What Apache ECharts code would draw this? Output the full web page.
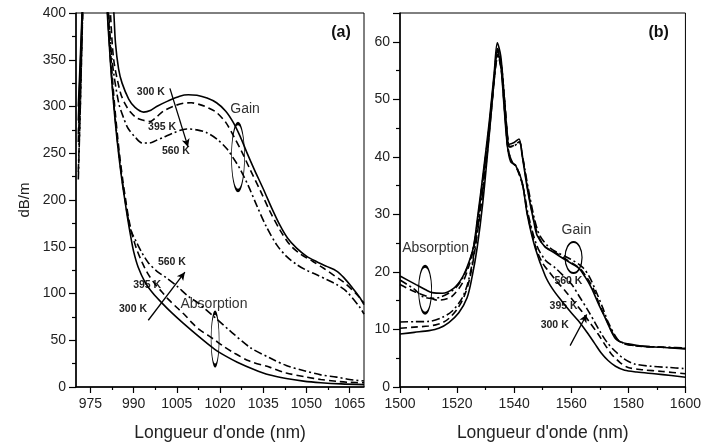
<!DOCTYPE html>
<html><head><meta charset="utf-8">
<script src="https://cdn.jsdelivr.net/npm/echarts@6/dist/echarts.min.js"></script>
<style>html,body{margin:0;padding:0;background:#fff}#c{width:704px;height:447px}</style>
</head><body><div id="c"></div>
<script>
// ---- axis ticks ----
const aXTicks = [975, 990, 1005, 1020, 1035, 1050, 1065];
const aXMinor = [982.5, 997.5, 1012.5, 1027.5, 1042.5, 1057.5];

// ---- panel (a): gain ----
const gainA300 = [[970.8,285],[971.6,350],[972.4,420],[974,650],[976,900],[979,650],[982.3,440],[983.1,403],[983.7,368],[984.8,340],[986,325],[988.3,308],[990.5,299],[993.5,294],[996,296],[998,300],[1002,306],[1006,311],[1009,312.5],[1012,312],[1015.5,309],[1018.8,304],[1022,295],[1024.6,283],[1027,268],[1029.3,251],[1032,232],[1035,212],[1038,191],[1040.8,173],[1043.5,159],[1046.6,148.5],[1050,140],[1053.6,134],[1057,129],[1060.5,124],[1063,117],[1066,106],[1068.6,95.5],[1070,88]];
const gainA395 = [[970.8,262],[971.7,340],[972.5,420],[974,650],[976,900],[979,640],[981.2,445],[981.9,403],[983.1,350],[985.4,315],[987,303],[988.9,294],[991,288],[993,285.5],[995.7,284],[998,289],[1000.3,295],[1004,300.5],[1007.3,303.5],[1010,304],[1013,302],[1016,298.5],[1018.8,293.6],[1022,283],[1024.6,269],[1027.5,252],[1030.4,233],[1034,210],[1037.4,187.5],[1041,167],[1044.3,152],[1048,142],[1052.4,134],[1056,127],[1059.3,120],[1063,112],[1067.5,99],[1070,90]];
const gainA560 = [[970.8,222],[971.5,300],[972.3,400],[973.5,600],[976,900],[978.5,620],[980.6,445],[981.3,403],[982.5,350],[984.8,304],[986.5,288],[988,277],[990.6,267],[993,261],[995.5,261],[998,264],[1000.3,267],[1004,272],[1008.4,276],[1012,275],[1015.4,272],[1019,265],[1022.3,255],[1025,243],[1027,233],[1030,214],[1032.7,194.5],[1036,172],[1039.7,152],[1043,140],[1046.6,131],[1050,125],[1053.6,120],[1057,115],[1060.5,109.6],[1064,102],[1068.6,85],[1070,78]];

// ---- panel (a): absorption ----
const absA300 = [[970.8,300],[971.6,360],[972.3,420],[974,650],[976,900],[978.5,620],[980.2,440],[980.8,403],[982,345],[983,305],[984,272],[985,244],[986,220],[987,199],[988,179],[989,161],[990,145],[991.6,128],[994,112],[996.8,100],[999.8,90],[1003.2,79.5],[1007.3,68],[1013,53],[1018.3,40],[1022,33],[1026,26.5],[1031.6,19],[1037,13],[1043,9],[1049,6.3],[1055,4.6],[1062,3.3],[1070,2.5]];
const absA395 = [[970.8,270],[971.7,345],[972.4,420],[974,650],[976,900],[978.5,630],[980.5,445],[981.2,403],[982.3,345],[983.3,305],[984.3,272],[985.3,244],[986.3,220],[987.3,199],[988.3,180],[989.5,163],[991,148],[993,133],[995,121],[997.5,110],[1000,101],[1002,94],[1005,85],[1007.8,77],[1010.5,68],[1013,61],[1016,55],[1018.3,50],[1021,44],[1024.6,37],[1030,28],[1037.4,21],[1043,15],[1050,10.6],[1055,8],[1060.5,6],[1065,5],[1070,4.5]];
const absA560 = [[970.8,230],[971.5,300],[972.2,400],[973.5,600],[976,900],[978.3,630],[980.2,445],[980.9,403],[982,348],[983,308],[984,275],[985,247],[986,222],[987,201],[988,182],[989,168],[991,155],[993,143],[995.1,133],[998,124],[1001.5,116.5],[1005,108],[1009,97],[1011.9,91],[1015,83],[1018,75],[1023.5,60],[1030.6,42],[1037.4,31],[1043,23],[1048.9,17.7],[1055,13],[1060.5,10.6],[1065,8],[1070,6.4]];

// ---- panel (b): absorption ----
const absB300 = [[1500,19.3],[1505.6,17.8],[1509,16.9],[1511.3,16.4],[1514.8,16.3],[1518.9,17.2],[1521.8,19],[1524,21.5],[1525.8,24.5],[1527.3,30],[1528.9,36.2],[1531.25,46],[1533,54.6],[1534.1,59.8],[1535.3,57.5],[1536.5,50.6],[1537.6,43.7],[1538.2,42.2],[1540,42.5],[1541.7,43.1],[1542.8,40.2],[1544.6,34.5],[1546.9,28.7],[1548,26.4],[1550.9,24.3],[1553.2,23.6],[1557.9,22.1],[1562.5,20.7],[1565,19],[1567.1,17.2],[1569.5,14.5],[1571.8,12.1],[1575.2,8.6],[1577.5,7.8],[1579.9,7.5],[1585,7.1],[1591.4,6.9],[1600,6.6]];
const absB395 = [[1500,17.8],[1505,16.6],[1510.2,15.6],[1513,15.1],[1515.5,15.2],[1518.3,15.8],[1521.8,18],[1524,20.8],[1526,24.5],[1527.5,30],[1529,36],[1531.3,45.5],[1533,54],[1534.2,58.8],[1535.4,56.5],[1536.6,50],[1537.7,43.5],[1538.4,41.8],[1540,42],[1541.8,42.6],[1543,39.8],[1544.8,34.3],[1547,28.7],[1548.5,26.2],[1551,24.3],[1554,23.5],[1558.5,22.1],[1563,20.6],[1565.5,19],[1567.8,17],[1570,14.2],[1572.3,11.7],[1575.5,8.5],[1578,7.6],[1580.5,7.3],[1586,7],[1592,6.9],[1600,6.7]];
const absB560 = [[1500,18.6],[1505,17],[1508,15.7],[1511,15.4],[1514,15.6],[1517,16.3],[1520,17.5],[1522.5,19.5],[1524.5,22],[1526.2,25.5],[1527.6,30.5],[1529,36],[1531.3,45.3],[1533.1,53.8],[1534.2,58.5],[1535.4,56.3],[1536.6,50],[1537.7,43.3],[1538.4,41.7],[1540,41.9],[1541.8,42.5],[1543,39.9],[1544.9,34.6],[1547.2,29],[1549,26.3],[1552,24.4],[1555,23.4],[1559.5,22.3],[1564,20.8],[1566.5,19],[1568.7,16.6],[1571,13.8],[1573,11.2],[1576.2,8.3],[1579,7.5],[1582,7.2],[1588,7],[1594,6.9],[1600,6.8]];

// ---- panel (b): gain ----
const gainB300 = [[1500,9.2],[1505,9.5],[1510.2,9.8],[1513.6,10.2],[1517.1,11.2],[1520.6,12.9],[1523.5,15.5],[1525.2,19],[1527,24.1],[1529,32],[1531.3,44],[1533,53.5],[1534.1,58.5],[1535.3,56],[1536.5,48.5],[1537.6,42],[1538.8,39.1],[1540.5,38.5],[1542.8,35.6],[1544.6,29.9],[1547.4,24.1],[1550.9,19.3],[1553.5,17],[1556.7,14.9],[1559.5,13.2],[1562.5,11.5],[1565.5,9.5],[1568.3,7.5],[1570.5,5.9],[1572.9,4.6],[1575.5,3.6],[1578.7,2.9],[1583,2.6],[1589.1,2.3],[1595,2],[1600,1.7]];
const gainB395 = [[1500,10.2],[1505,10.4],[1510,10.6],[1512.5,10.8],[1515,11.2],[1517.1,11.9],[1520,13.5],[1522.5,15.8],[1524.5,19],[1526.3,24],[1528,30],[1530,38],[1532,48],[1533.3,55],[1534.2,57.8],[1535.4,55.5],[1536.6,48.5],[1537.7,42],[1539,39.3],[1540.6,38.3],[1542.9,35.2],[1544.8,29.7],[1547.6,24.2],[1550,21.5],[1552.1,20.1],[1555,18.3],[1557.9,16.7],[1561,14.8],[1563.6,13.2],[1566.5,11.2],[1569.4,9.2],[1572,7.2],[1574.1,5.7],[1577,4.3],[1579.9,3.4],[1585,3],[1592,2.7],[1600,2.3]];
const gainB560 = [[1500,11.3],[1505,11.35],[1510.2,11.4],[1514.8,12.1],[1518.3,13.2],[1521.8,15.5],[1524,18.5],[1526,23.5],[1528,30.5],[1530,38.5],[1532,48.5],[1533.3,55],[1534.3,57.5],[1535.5,55],[1536.7,48],[1537.8,41.5],[1539.2,39.2],[1540.8,38.3],[1543,35],[1545,29.8],[1548,24.5],[1551,22],[1554.4,20.7],[1557.5,19.2],[1560.2,17.8],[1563,15.6],[1566,13.2],[1568.3,11.2],[1570.6,9.2],[1572.8,7.6],[1575.2,6.3],[1578.5,4.9],[1582.2,4],[1588,3.6],[1594,3.4],[1600,3.2]];

// ---- annotations (data coordinates) ----
const tempLabelsA = [[996.0,315,'300 K'],[999.9,278,'395 K'],[1004.7,252.5,'560 K'],[1003.3,133.7,'560 K'],[994.7,109.3,'395 K'],[989.8,82.8,'300 K']];
const wordLabelsA = [[1028.7,297,'Gain'],[1017.9,89.1,'Absorption']];
const panelLabelA = [[1062,378.8,'(a)']];
const arrowsA = [[[1002.6,319.4],[1008.9,256.8]],[[995.1,71.4],[1007.8,122.8]]];
const ellipsesA = [[1026.25,246,13,67],[1018.3,51.2,8,53]];

const tempLabelsB = [[1559,18.4,'560 K'],[1557.3,14,'395 K'],[1554.2,10.7,'300 K']];
const wordLabelsB = [[1512.5,24.1,'Absorption'],[1561.8,27.2,'Gain']];
const panelLabelB = [[1590.6,61.6,'(b)']];
const arrowsB = [[[1559.6,7.2],[1565.4,12.6]]];
const ellipsesB = [[1508.8,16.9,13,47],[1560.8,22.5,17,31]];

const FONT = 'Liberation Sans, Arial, sans-serif';
const DASH = [7,4];
const DASHDOT = [8,3,2,3];

function curve(data, xi, yi, type) {
  return {type:'line', xAxisIndex:xi, yAxisIndex:yi, data:data, showSymbol:false, smooth:0.3,
    clip:true, silent:true, animation:false,
    lineStyle:{color:'#000', width:1.6, type:type}};
}
function textSeries(data, xi, yi, size, weight, color) {
  return {type:'scatter', xAxisIndex:xi, yAxisIndex:yi, data:data, symbolSize:1, silent:true, animation:false,
    itemStyle:{color:'rgba(0,0,0,0)', opacity:1},
    label:{show:true, position:'inside', formatter:p=>p.data[2], fontFamily:FONT, fontSize:size, fontWeight:weight, color:color, opacity:1}};
}
function arrowSeries(arrows, xi, yi) {
  return {type:'scatter', xAxisIndex:xi, yAxisIndex:yi, data:[], silent:true, animation:false,
    markLine:{silent:true, animation:false, symbol:['none','arrow'], symbolSize:[6,8],
      label:{show:false}, lineStyle:{color:'#000', width:1.3, type:'solid', opacity:1},
      data: arrows.map(a=>[{coord:a[0]},{coord:a[1]}])}};
}
function ellipseSeries(ells, xi, yi) {
  return {type:'scatter', xAxisIndex:xi, yAxisIndex:yi, silent:true, animation:false,
    data: ells.map(e=>({value:[e[0],e[1]], symbolSize:[e[2],e[3]]})),
    symbol:'circle',
    itemStyle:{color:'rgba(0,0,0,0)', borderColor:'#000', borderWidth:1.6, opacity:1}};
}

const axLine = {show:true, onZero:false, lineStyle:{color:'#000', width:1.5}};
const plain = v => String(v);
const tickLbl = {fontFamily:FONT, fontSize:14, color:'#222', margin:10, formatter:plain};
const nameStyle = {fontFamily:FONT, fontSize:17.5, color:'#222'};

const chart = echarts.init(document.getElementById('c'), null, {renderer:'canvas'});
chart.setOption({
  animation:false,
  backgroundColor:'#fff',
  grid:[
    {left:76, top:13, width:288, height:377, show:true, borderColor:'#000', borderWidth:1, backgroundColor:'rgba(0,0,0,0)'},
    {left:400, top:13, width:288, height:377, show:true, borderColor:'#000', borderWidth:1, backgroundColor:'rgba(0,0,0,0)'}
  ],
  xAxis:[
    {gridIndex:0, type:'value', min:970, max:1070, position:'bottom', axisLine:axLine,
      axisTick:{show:true, customValues:aXTicks, length:6, lineStyle:{color:'#000', width:1.2}},
      axisLabel:Object.assign({}, tickLbl, {customValues:aXTicks}), splitLine:{show:false},
      name:"Longueur d'onde (nm)", nameLocation:'middle', nameGap:37, nameTextStyle:nameStyle},
    {gridIndex:0, type:'value', min:970, max:1070, position:'bottom', axisLine:{show:false},
      axisTick:{show:true, customValues:aXMinor, length:3, lineStyle:{color:'#000', width:1.2}},
      axisLabel:{show:false}, splitLine:{show:false}},
    {gridIndex:1, type:'value', min:1500, max:1600, interval:20, position:'bottom', axisLine:axLine,
      axisTick:{show:true, length:6, lineStyle:{color:'#000', width:1.2}},
      minorTick:{show:true, splitNumber:2, length:3, lineStyle:{color:'#000', width:1.2}},
      axisLabel:tickLbl, splitLine:{show:false}, minorSplitLine:{show:false},
      name:"Longueur d'onde (nm)", nameLocation:'middle', nameGap:37, nameTextStyle:nameStyle}
  ],
  yAxis:[
    {gridIndex:0, type:'value', min:0, max:400, interval:50, axisLine:axLine,
      axisTick:{show:true, length:7, lineStyle:{color:'#000', width:1.2}},
      minorTick:{show:true, splitNumber:2, length:4, lineStyle:{color:'#000', width:1.2}},
      axisLabel:tickLbl, splitLine:{show:false}, minorSplitLine:{show:false},
      name:'dB/m', nameLocation:'middle', nameGap:44, nameRotate:90,
      nameTextStyle:{fontFamily:FONT, fontSize:15, color:'#222'}},
    {gridIndex:1, type:'value', min:0, max:65, interval:10, axisLine:axLine,
      axisTick:{show:true, length:7, lineStyle:{color:'#000', width:1.2}},
      minorTick:{show:true, splitNumber:2, length:4, lineStyle:{color:'#000', width:1.2}},
      axisLabel:Object.assign({}, tickLbl, {formatter: v => (v % 10 === 0 ? String(v) : '')}),
      splitLine:{show:false}, minorSplitLine:{show:false}}
  ],
  series:[
    curve(gainA300,0,0,'solid'), curve(gainA395,0,0,DASH), curve(gainA560,0,0,DASHDOT),
    curve(absA300,0,0,'solid'), curve(absA395,0,0,DASH), curve(absA560,0,0,DASHDOT),
    curve(absB300,2,1,'solid'), curve(absB395,2,1,DASH), curve(absB560,2,1,DASHDOT),
    curve(gainB300,2,1,'solid'), curve(gainB395,2,1,DASH), curve(gainB560,2,1,DASHDOT),
    textSeries(tempLabelsA,0,0,10.5,'bold','#222'),
    textSeries(wordLabelsA,0,0,14,'normal','#333'),
    textSeries(panelLabelA,0,0,16,'bold','#111'),
    textSeries(tempLabelsB,2,1,10.5,'bold','#222'),
    textSeries(wordLabelsB,2,1,14,'normal','#333'),
    textSeries(panelLabelB,2,1,16,'bold','#111'),
    arrowSeries(arrowsA,0,0), arrowSeries(arrowsB,2,1),
    ellipseSeries(ellipsesA,0,0), ellipseSeries(ellipsesB,2,1)
  ]
});
</script></body></html>
